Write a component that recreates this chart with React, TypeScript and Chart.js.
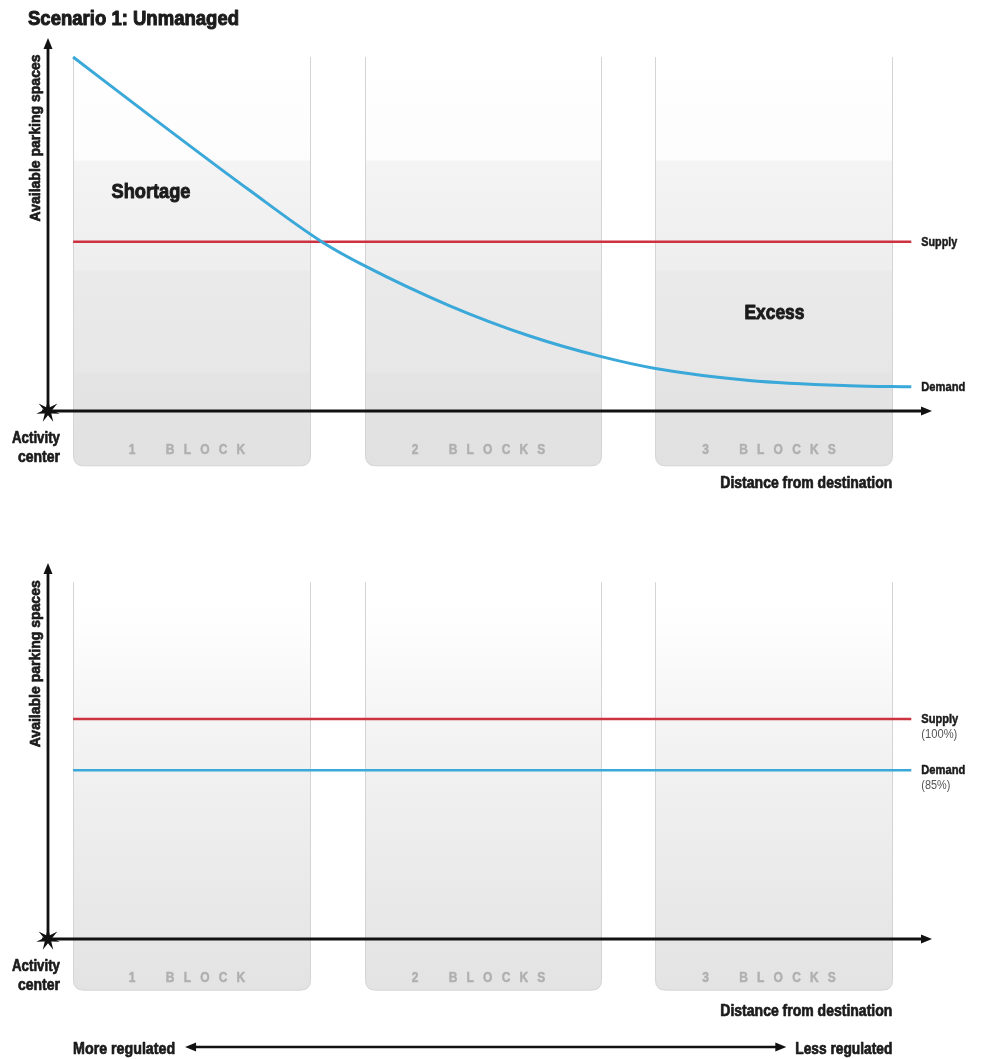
import React, { useEffect, useRef } from 'react';
import { Chart, registerables } from 'chart.js';

Chart.register(...registerables);

const FONT = '"Liberation Sans", Arial, sans-serif';

// ---------- data (x in "blocks" from the activity centre, y in % of axis height) ----------
const X_MAX = 3.03;
const blockStart = [0.086, 1.086, 2.082];
const blockEnd = [0.897, 1.897, 2.894];
const blockLabels = ['1\u2003BLOCK', '2\u2003BLOCKS', '3\u2003BLOCKS'];
const lineStartX = 0.086;
const lineEndX = 2.959;

// Scenario 1: Unmanaged
const demand1X = [0.086, 0.349, 0.692, 0.938, 1.086, 1.377, 1.651, 1.89, 2.082, 2.404, 2.747, 2.959];
const demand1Y = [94.9, 79.2, 59.1, 45.4, 38.9, 28.2, 20.1, 14.7, 11.4, 8.2, 6.8, 6.5];
const supply1Y = 45.4;

// Scenario 2
const supply2Y = 58.5;
const demand2Y = 44.9;

const RED = '#cc3240';
const BLUE = '#3aa8d9';

type Opts = {
  title?: string;
  blockTop: number;
  blockBottom: number;
  gradient: [number, string][];
  seriesLabels: { text: string; sub?: string; y: number; w: number; sw?: number }[];
  notes: { text: string; x: number; y: number; w: number }[];
  regulated?: boolean;
};

type TOpt = {
  size: number;
  bold?: boolean;
  align?: 'left' | 'right' | 'center';
  w?: number;
  sx?: number;
  color?: string;
  ls?: number;
  base?: CanvasTextBaseline;
  heavy?: number;
};

function txt(ctx: CanvasRenderingContext2D, s: string, x: number, y: number, o: TOpt) {
  ctx.save();
  const bold = o.bold !== false;
  ctx.font = `${bold ? 'bold ' : ''}${o.size}px ${FONT}`;
  (ctx as any).letterSpacing = `${o.ls || 0}px`;
  ctx.textAlign = 'left';
  ctx.textBaseline = o.base || 'alphabetic';
  ctx.fillStyle = o.color || '#1b1b1b';
  ctx.strokeStyle = o.color || '#1b1b1b';
  const mw = ctx.measureText(s).width - (o.ls || 0);
  const sx = o.w ? o.w / mw : o.sx || 1;
  const w = mw * sx;
  const align = o.align || 'left';
  const x0 = align === 'left' ? x : align === 'right' ? x - w : x - w / 2;
  ctx.translate(x0, y);
  ctx.scale(sx, 1);
  ctx.fillText(s, 0, 0);
  const heavy = o.heavy ?? (bold ? 0.7 : 0);
  if (heavy > 0) {
    ctx.lineWidth = heavy;
    ctx.lineJoin = 'round';
    ctx.strokeText(s, 0, 0);
  }
  ctx.restore();
}

function arrowHead(ctx: CanvasRenderingContext2D, x: number, y: number, dir: 'up' | 'right' | 'left') {
  ctx.beginPath();
  if (dir === 'up') {
    ctx.moveTo(x, y);
    ctx.lineTo(x - 4.5, y + 11);
    ctx.lineTo(x + 4.5, y + 11);
  } else if (dir === 'right') {
    ctx.moveTo(x, y);
    ctx.lineTo(x - 11, y - 4.5);
    ctx.lineTo(x - 11, y + 4.5);
  } else {
    ctx.moveTo(x, y);
    ctx.lineTo(x + 11, y - 4.5);
    ctx.lineTo(x + 11, y + 4.5);
  }
  ctx.closePath();
  ctx.fill();
}

function star(ctx: CanvasRenderingContext2D, cx: number, cy: number) {
  const pts = 7;
  const outer = 12;
  const inner = 4.2;
  ctx.beginPath();
  for (let i = 0; i < pts * 2; i++) {
    const r = i % 2 === 0 ? outer : inner;
    const a = (Math.PI / pts) * i - Math.PI / 2;
    const px = cx + r * Math.cos(a);
    const py = cy + r * Math.sin(a);
    if (i === 0) ctx.moveTo(px, py);
    else ctx.lineTo(px, py);
  }
  ctx.closePath();
  ctx.fill();
}

const diagramPlugin = {
  id: 'diagram',
  beforeDatasetsDraw(chart: any, _args: any, opts: Opts) {
    const ctx: CanvasRenderingContext2D = chart.ctx;
    const xs = chart.scales.x;
    const ys = chart.scales.y;
    const area = chart.chartArea;
    const top = ys.getPixelForValue(opts.blockTop);
    const bottom = ys.getPixelForValue(opts.blockBottom);
    const ox = xs.getPixelForValue(0);
    const oy = ys.getPixelForValue(0);
    ctx.save();
    blockStart.forEach((s, i) => {
      const x0 = Math.round(xs.getPixelForValue(s)) + 0.5;
      const x1 = Math.round(xs.getPixelForValue(blockEnd[i])) + 0.5;
      const r = 10;
      const g = ctx.createLinearGradient(0, top, 0, bottom);
      opts.gradient.forEach(([p, c]) => g.addColorStop(p, c));
      ctx.beginPath();
      ctx.moveTo(x0, top);
      ctx.lineTo(x0, bottom - r);
      ctx.quadraticCurveTo(x0, bottom, x0 + r, bottom);
      ctx.lineTo(x1 - r, bottom);
      ctx.quadraticCurveTo(x1, bottom, x1, bottom - r);
      ctx.lineTo(x1, top);
      ctx.fillStyle = g;
      ctx.fill();
      ctx.strokeStyle = '#d4d4d4';
      ctx.lineWidth = 1;
      ctx.stroke();
      txt(ctx, blockLabels[i], (x0 + x1) / 2 - 5, oy + 43, {
        size: 15,
        sx: 0.8,
        ls: 11.5,
        align: 'center',
        color: '#b0b0b0',
        heavy: 0.5,
      });
    });

    // axes
    ctx.strokeStyle = '#111';
    ctx.fillStyle = '#111';
    ctx.lineWidth = 2.8;
    ctx.beginPath();
    ctx.moveTo(ox - 6, oy);
    ctx.lineTo(area.right - 6, oy);
    ctx.stroke();
    arrowHead(ctx, area.right, oy, 'right');
    ctx.beginPath();
    ctx.moveTo(ox, oy);
    ctx.lineTo(ox, area.top + 6);
    ctx.stroke();
    arrowHead(ctx, ox, area.top, 'up');
    star(ctx, ox, oy);
    ctx.restore();
  },
  afterDatasetsDraw(chart: any, _args: any, opts: Opts) {
    const ctx: CanvasRenderingContext2D = chart.ctx;
    const xs = chart.scales.x;
    const ys = chart.scales.y;
    const ox = xs.getPixelForValue(0);
    const oy = ys.getPixelForValue(0);
    ctx.save();

    if (opts.title) {
      txt(ctx, opts.title, 28, 25, { size: 20, w: 211, heavy: 1 });
    }

    // y axis title
    ctx.save();
    ctx.translate(ox - 12, ys.getPixelForValue(73.2));
    ctx.rotate(-Math.PI / 2);
    txt(ctx, 'Available parking spaces', 0, 0, { size: 14, w: 167, align: 'center', base: 'middle' });
    ctx.restore();

    // activity centre
    txt(ctx, 'Activity', ox + 12, oy + 32, { size: 16, w: 48, align: 'right' });
    txt(ctx, 'center', ox + 12, oy + 51, { size: 16, w: 42, align: 'right' });

    // distance label
    const rightEdge = xs.getPixelForValue(blockEnd[2]);
    txt(ctx, 'Distance from destination', rightEdge, oy + 77, { size: 16, w: 172, align: 'right' });

    // series labels
    const lx = xs.getPixelForValue(lineEndX) + 10;
    opts.seriesLabels.forEach((l) => {
      const y = ys.getPixelForValue(l.y);
      txt(ctx, l.text, lx, y + 4, { size: 13, w: l.w, heavy: 0.5 });
      if (l.sub) {
        txt(ctx, l.sub, lx, y + 19, { size: 12, bold: false, w: l.sw, color: '#555' });
      }
    });

    // notes
    opts.notes.forEach((n) => {
      txt(ctx, n.text, xs.getPixelForValue(n.x), ys.getPixelForValue(n.y), {
        size: 21,
        w: n.w,
        align: 'center',
        base: 'middle',
        heavy: 1,
      });
    });

    if (opts.regulated) {
      const y = oy + 108;
      const left = xs.getPixelForValue(blockStart[0]);
      const a = left + 102 + 10;
      const b = rightEdge - 97 - 9;
      txt(ctx, 'More regulated', left, y + 7, { size: 16, w: 102 });
      txt(ctx, 'Less regulated', rightEdge, y + 7, { size: 16, w: 97, align: 'right' });
      ctx.strokeStyle = '#111';
      ctx.fillStyle = '#111';
      ctx.lineWidth = 2.5;
      ctx.beginPath();
      ctx.moveTo(a + 6, y);
      ctx.lineTo(b - 6, y);
      ctx.stroke();
      arrowHead(ctx, a, y, 'left');
      arrowHead(ctx, b, y, 'right');
    }
    ctx.restore();
  },
};

function makeConfig(datasets: any[], opts: Opts, padding: any) {
  return {
    type: 'line',
    data: { datasets },
    options: {
      animation: false,
      responsive: false,
      maintainAspectRatio: false,
      layout: { padding },
      scales: {
        x: { type: 'linear', min: 0, max: X_MAX, display: false },
        y: { type: 'linear', min: 0, max: 100, display: false },
      },
      plugins: {
        legend: { display: false },
        tooltip: { enabled: false },
        diagram: opts,
      },
      elements: { point: { radius: 0 } },
    },
    plugins: [diagramPlugin],
  } as any;
}

function Panel({ config, top, height }: { config: any; top: number; height: number }) {
  const ref = useRef<HTMLCanvasElement>(null);
  useEffect(() => {
    const chart = new Chart(ref.current!, config);
    return () => chart.destroy();
  }, []);
  return (
    <canvas
      ref={ref}
      width={983}
      height={height}
      style={{ position: 'absolute', left: 0, top, width: 983, height }}
    />
  );
}

const grad1: [number, string][] = [
  [0, '#ffffff'],
  [0.252, '#fcfcfc'],
  [0.255, '#f4f4f4'],
  [0.52, '#eeeeee'],
  [0.525, '#eaeaea'],
  [0.77, '#e7e7e7'],
  [0.775, '#e4e4e4'],
  [1, '#e1e1e1'],
];
const grad2: [number, string][] = [
  [0, '#ffffff'],
  [0.1, '#fefefe'],
  [0.38, '#f3f3f3'],
  [1, '#e3e3e3'],
];

const config1 = makeConfig(
  [
    {
      data: demand1X.map((x, i) => ({ x, y: demand1Y[i] })),
      borderColor: BLUE,
      borderWidth: 3,
      cubicInterpolationMode: 'monotone',
    },
    {
      data: [
        { x: lineStartX, y: supply1Y },
        { x: lineEndX, y: supply1Y },
      ],
      borderColor: RED,
      borderWidth: 2.5,
    },
  ],
  {
    title: 'Scenario 1: Unmanaged',
    blockTop: 94.9,
    blockBottom: -14.7,
    gradient: grad1,
    seriesLabels: [
      { text: 'Supply', y: supply1Y, w: 36 },
      { text: 'Demand', y: demand1Y[demand1Y.length - 1], w: 44 },
    ],
    notes: [
      { text: 'Shortage', x: 0.353, y: 58.6, w: 79 },
      { text: 'Excess', x: 2.49, y: 26.3, w: 60 },
    ],
  },
  { left: 48, right: 51, top: 38, bottom: 109 }
);

const config2 = makeConfig(
  [
    {
      data: [
        { x: lineStartX, y: supply2Y },
        { x: lineEndX, y: supply2Y },
      ],
      borderColor: RED,
      borderWidth: 2.5,
    },
    {
      data: [
        { x: lineStartX, y: demand2Y },
        { x: lineEndX, y: demand2Y },
      ],
      borderColor: BLUE,
      borderWidth: 2.5,
    },
  ],
  {
    blockTop: 94.9,
    blockBottom: -13.6,
    gradient: grad2,
    seriesLabels: [
      { text: 'Supply', sub: '(100%)', y: supply2Y, w: 37, sw: 36 },
      { text: 'Demand', sub: '(85%)', y: demand2Y, w: 44, sw: 29 },
    ],
    notes: [],
    regulated: true,
  },
  { left: 48, right: 51, top: 43, bottom: 120 }
);

export default function App() {
  useEffect(() => {
    document.body.style.margin = '0';
    document.body.style.overflow = 'hidden';
  }, []);
  return (
    <div style={{ position: 'absolute', left: 0, top: 0, width: 983, height: 1059, background: '#fff', overflow: 'hidden' }}>
      <Panel config={config1} top={0} height={520} />
      <Panel config={config2} top={520} height={539} />
    </div>
  );
}
